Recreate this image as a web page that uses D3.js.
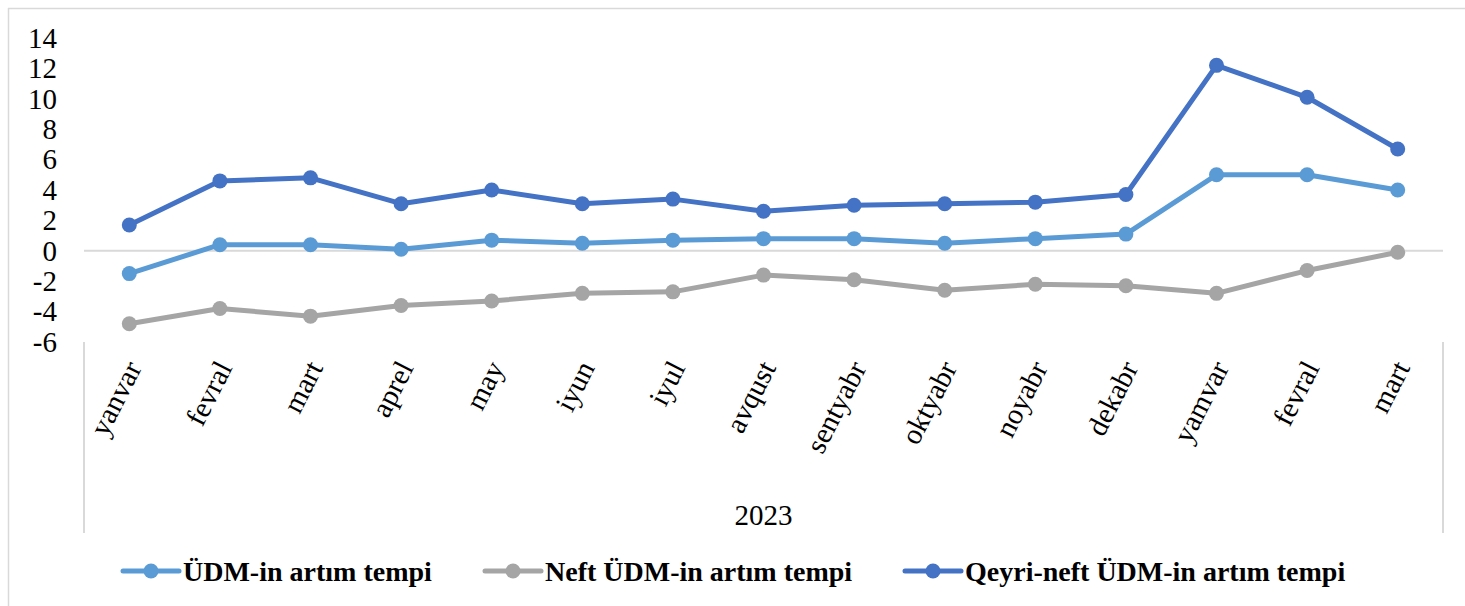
<!DOCTYPE html>
<html>
<head>
<meta charset="utf-8">
<script src="https://cdn.jsdelivr.net/npm/d3@7"></script>
</head>
<body style="margin:0">
<svg id="chart" width="1465" height="606" style="font-family: 'Times New Roman'"></svg>
<script>
const months = ["yanvar","fevral","mart","aprel","may","iyun","iyul","avqust","sentyabr","oktyabr","noyabr","dekabr","yamvar","fevral","mart"];
const groupLabel = "2023";
const yTicks = [-6,-4,-2,0,2,4,6,8,10,12,14];
const seriesNames = ["ÜDM-in artım tempi", "Neft ÜDM-in artım tempi", "Qeyri-neft ÜDM-in artım tempi"];
const udm = [-1.5, 0.4, 0.4, 0.1, 0.7, 0.5, 0.7, 0.8, 0.8, 0.5, 0.8, 1.1, 5.0, 5.0, 4.0];
const neft = [-4.8, -3.8, -4.3, -3.6, -3.3, -2.8, -2.7, -1.6, -1.9, -2.6, -2.2, -2.3, -2.8, -1.3, -0.1];
const qeyri = [1.7, 4.6, 4.8, 3.1, 4.0, 3.1, 3.4, 2.6, 3.0, 3.1, 3.2, 3.7, 12.2, 10.1, 6.7];
const colors = ["#5B9BD5", "#A5A5A5", "#4472C4"];

const FONT = "'Times New Roman'";
const svg = d3.select("#chart");
const W = 1465, H = 606;
const pLeft = 84, pRight = 1443, pTop = 38, pBottom = 342;

svg.append("line").attr("x1", 8.5).attr("x2", 8.5).attr("y1", 8).attr("y2", H).attr("stroke", "#d9d9d9").attr("stroke-width", 1.5);
svg.append("line").attr("x1", 8).attr("x2", W).attr("y1", 8.5).attr("y2", 8.5).attr("stroke", "#d9d9d9").attr("stroke-width", 1.5);

const x = d3.scaleBand().domain(d3.range(months.length)).range([pLeft, pRight]).paddingInner(0).paddingOuter(0);
const y = d3.scaleLinear().domain([-6, 14]).range([pBottom, pTop]);
const cx = i => x(i) + x.bandwidth() / 2;

svg.append("line").attr("x1", pLeft).attr("x2", pRight).attr("y1", y(0)).attr("y2", y(0))
  .attr("stroke", "#d9d9d9").attr("stroke-width", 2);

// y tick labels placed with the linear scale
const yg = svg.append("g");
yTicks.forEach(t => {
  yg.append("text").attr("x", 57).attr("y", y(t)).attr("dy", "0.34em").attr("text-anchor", "end")
    .attr("font-size", 29).style("font-family", FONT).attr("fill", "#000").text(t);
});

svg.append("line").attr("x1", pLeft).attr("x2", pLeft).attr("y1", pBottom).attr("y2", 533).attr("stroke", "#d9d9d9").attr("stroke-width", 2);
svg.append("line").attr("x1", pRight).attr("x2", pRight).attr("y1", pBottom).attr("y2", 533).attr("stroke", "#d9d9d9").attr("stroke-width", 2);

const xg = svg.append("g");
months.forEach((m, i) => {
  xg.append("text")
    .attr("transform", `translate(${cx(i) + 4},${363}) rotate(-63)`)
    .attr("text-anchor", "end")
    .attr("dy", "0.35em")
    .attr("font-size", 29)
    .style("font-family", FONT)
    .attr("fill", "#000")
    .text(m);
});
svg.append("text").attr("x", (pLeft + pRight) / 2).attr("y", 525).attr("text-anchor", "middle")
  .attr("font-size", 29).style("font-family", FONT).attr("fill", "#000").text(groupLabel);

const allSeries = [udm, neft, qeyri];
const line = d3.line().x((d, i) => cx(i)).y(d => y(d));
allSeries.forEach((s, k) => {
  const g = svg.append("g");
  g.append("path").datum(s).attr("d", line).attr("fill", "none")
    .attr("stroke", colors[k]).attr("stroke-width", 5).attr("stroke-linejoin", "round").attr("stroke-linecap", "round");
  g.selectAll("circle").data(s).join("circle")
    .attr("cx", (d, i) => cx(i)).attr("cy", d => y(d)).attr("r", 7.5).attr("fill", colors[k]);
});

const legendX = [123, 485, 905];
const legY = 571;
seriesNames.forEach((name, k) => {
  const g = svg.append("g").attr("transform", `translate(${legendX[k]},${legY})`);
  g.append("line").attr("x1", 0).attr("x2", 56).attr("y1", 0).attr("y2", 0).attr("stroke", colors[k]).attr("stroke-width", 5).attr("stroke-linecap", "round");
  g.append("circle").attr("cx", 28).attr("cy", 0).attr("r", 7.5).attr("fill", colors[k]);
  g.append("text").attr("x", 60).attr("y", 0).attr("dy", "0.34em").attr("font-size", 28).attr("font-weight", "bold")
    .style("font-family", FONT).attr("fill", "#000").text(name);
});
</script>
</body>
</html>
